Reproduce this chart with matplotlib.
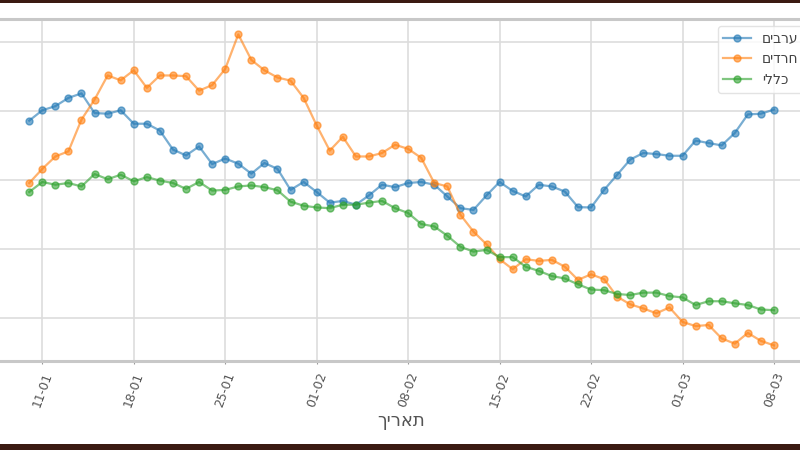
import matplotlib
matplotlib.use("Agg")
import matplotlib.pyplot as plt
import matplotlib.dates as mdates
from matplotlib.patches import Rectangle
import pandas as pd

start_date = "2021-01-10"
labels = ["ערבים", "חרדים", "כללי"]
x_label = "תאריך"

arabs = [7.73, 8.03, 8.15, 8.39, 8.52, 7.95, 7.93, 8.03, 7.64, 7.64,
         7.44, 6.89, 6.72, 6.98, 6.47, 6.63, 6.48, 6.19, 6.50, 6.33,
         5.72, 5.95, 5.66, 5.35, 5.40, 5.29, 5.56, 5.87, 5.80, 5.92,
         5.95, 5.87, 5.53, 5.19, 5.14, 5.56, 5.95, 5.69, 5.53, 5.87,
         5.82, 5.67, 5.22, 5.21, 5.72, 6.16, 6.60, 6.79, 6.76, 6.71,
         6.71, 7.15, 7.08, 7.01, 7.37, 7.91, 7.93, 8.05]
haredim = [5.92, 6.33, 6.69, 6.84, 7.76, 8.34, 9.04, 8.90, 9.19, 8.68,
           9.04, 9.04, 9.02, 8.60, 8.76, 9.23, 10.23, 9.49, 9.19, 8.98,
           8.89, 8.39, 7.59, 6.86, 7.26, 6.69, 6.69, 6.79, 7.03, 6.91,
           6.65, 5.92, 5.82, 5.00, 4.51, 4.14, 3.71, 3.42, 3.71, 3.66,
           3.69, 3.49, 3.11, 3.27, 3.13, 2.62, 2.40, 2.28, 2.14, 2.31,
           1.89, 1.77, 1.80, 1.41, 1.26, 1.57, 1.34, 1.21]
general = [5.66, 5.95, 5.87, 5.92, 5.82, 6.18, 6.03, 6.16, 5.97, 6.09,
           5.99, 5.92, 5.75, 5.95, 5.70, 5.72, 5.82, 5.85, 5.80, 5.71,
           5.38, 5.26, 5.21, 5.19, 5.29, 5.29, 5.35, 5.40, 5.19, 5.05,
           4.73, 4.66, 4.39, 4.07, 3.93, 3.98, 3.77, 3.77, 3.49, 3.37,
           3.22, 3.15, 2.98, 2.83, 2.81, 2.70, 2.67, 2.74, 2.74, 2.64,
           2.60, 2.38, 2.49, 2.49, 2.43, 2.38, 2.25, 2.23]
y_ticks = [2, 4, 6, 8, 10]

dates = pd.date_range(start_date, periods=len(arabs), freq="D")


def rtl(s):
    # matplotlib lays text out left-to-right; reverse for visual RTL order
    return s[::-1]


fig = plt.figure(figsize=(8, 4.5), dpi=100)
ax = fig.add_axes([-0.01, 0.198, 1.024, 0.76])

colors = ["#1f77b4", "#ff7f0e", "#2ca02c"]
for series, lab, c in zip([arabs, haredim, general], labels, colors):
    ax.plot(dates, series, marker="o", markersize=5, linewidth=1.6,
            color=c, alpha=0.6, label=rtl(lab))

ax.set_yticks(y_ticks)
ax.tick_params(axis="y", length=0, labelleft=False)
ax.xaxis.set_major_locator(mdates.WeekdayLocator(byweekday=mdates.MO))
ax.xaxis.set_major_formatter(mdates.DateFormatter("%d-%m"))
plt.setp(ax.get_xticklabels(), rotation=70, ha="center", fontsize=9,
         color="#555555")
ax.tick_params(axis="x", length=2, color="#999999", pad=5)

ax.grid(True, color="#dddddd", linewidth=1.2)
ax.set_axisbelow(True)
for side in ["top", "bottom", "left", "right"]:
    ax.spines[side].set_color("#c8c8c8")
    ax.spines[side].set_linewidth(2.2)

ax.set_xlabel(rtl(x_label), fontsize=13, color="#555555", labelpad=2)

leg = ax.legend(loc="upper right", fontsize=10, frameon=True)
leg.get_frame().set_edgecolor("#dddddd")
for t in leg.get_texts():
    t.set_color("#444444")

# dark frame bands at top and bottom of the image
fig.patches.append(Rectangle((0, 1 - 3 / 450), 1, 3 / 450, transform=fig.transFigure,
                             facecolor="#3b1a12", edgecolor="none", zorder=10))
fig.patches.append(Rectangle((0, 0), 1, 6 / 450, transform=fig.transFigure,
                             facecolor="#3b1a12", edgecolor="none", zorder=10))

fig.savefig("out.png", dpi=100)
